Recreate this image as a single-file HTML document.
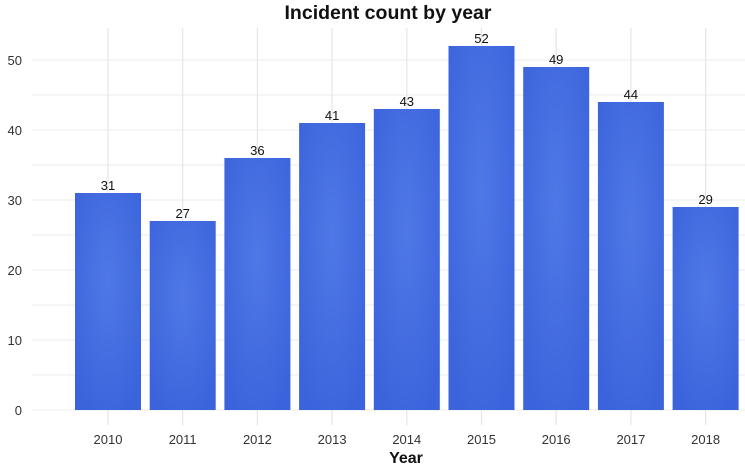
<!DOCTYPE html>
<html><head><meta charset="utf-8"><style>
body{margin:0;background:#fff;}
svg{display:block;font-family:"Liberation Sans",sans-serif;}
</style></head><body>
<svg width="745" height="468" viewBox="0 0 745 468">
<defs><radialGradient id="g" cx="50%" cy="40%" r="70%"><stop offset="0" stop-color="#4f78e6"/><stop offset="1" stop-color="#3a63dc"/></radialGradient></defs>
<text x="388" y="19" font-size="19.5" font-weight="bold" text-anchor="middle" fill="#111">Incident count by year</text>
<g stroke="#ebebeb" stroke-width="1">
<line x1="32" x2="745" y1="410" y2="410"/><line x1="32" x2="745" y1="375" y2="375"/><line x1="32" x2="745" y1="340" y2="340"/><line x1="32" x2="745" y1="305" y2="305"/><line x1="32" x2="745" y1="270" y2="270"/><line x1="32" x2="745" y1="235" y2="235"/><line x1="32" x2="745" y1="200" y2="200"/><line x1="32" x2="745" y1="165" y2="165"/><line x1="32" x2="745" y1="130" y2="130"/><line x1="32" x2="745" y1="95" y2="95"/><line x1="32" x2="745" y1="60" y2="60"/>
</g>
<g stroke="#e6e6e6" stroke-width="1.2">
<line x1="108" x2="108" y1="28" y2="425"/><line x1="182.7" x2="182.7" y1="28" y2="425"/><line x1="257.4" x2="257.4" y1="28" y2="425"/><line x1="332.1" x2="332.1" y1="28" y2="425"/><line x1="406.8" x2="406.8" y1="28" y2="425"/><line x1="481.5" x2="481.5" y1="28" y2="425"/><line x1="556.2" x2="556.2" y1="28" y2="425"/><line x1="630.9" x2="630.9" y1="28" y2="425"/><line x1="705.6" x2="705.6" y1="28" y2="425"/>
</g>
<g fill="#333" font-size="13" text-anchor="end">
<text x="22" y="415">0</text><text x="22" y="345">10</text><text x="22" y="275">20</text><text x="22" y="205">30</text><text x="22" y="135">40</text><text x="22" y="65">50</text>
</g>
<g fill="url(#g)">
<rect x="75" y="193" width="66" height="217"/>
<rect x="149.7" y="221" width="66" height="189"/>
<rect x="224.4" y="158" width="66" height="252"/>
<rect x="299.1" y="123" width="66" height="287"/>
<rect x="373.8" y="109" width="66" height="301"/>
<rect x="448.5" y="46" width="66" height="364"/>
<rect x="523.2" y="67" width="66" height="343"/>
<rect x="597.9" y="102" width="66" height="308"/>
<rect x="672.6" y="207" width="66" height="203"/>
</g>
<g fill="#111" font-size="13" text-anchor="middle">
<text x="108" y="190">31</text><text x="182.7" y="218">27</text><text x="257.4" y="155">36</text><text x="332.1" y="120">41</text><text x="406.8" y="106">43</text><text x="481.5" y="43">52</text><text x="556.2" y="64">49</text><text x="630.9" y="99">44</text><text x="705.6" y="204">29</text>
</g>
<g fill="#333" font-size="13" text-anchor="middle">
<text x="108" y="444">2010</text><text x="182.7" y="444">2011</text><text x="257.4" y="444">2012</text><text x="332.1" y="444">2013</text><text x="406.8" y="444">2014</text><text x="481.5" y="444">2015</text><text x="556.2" y="444">2016</text><text x="630.9" y="444">2017</text><text x="705.6" y="444">2018</text>
</g>
<text x="406" y="463" font-size="16" font-weight="bold" text-anchor="middle" fill="#111">Year</text>
</svg>
</body></html>
